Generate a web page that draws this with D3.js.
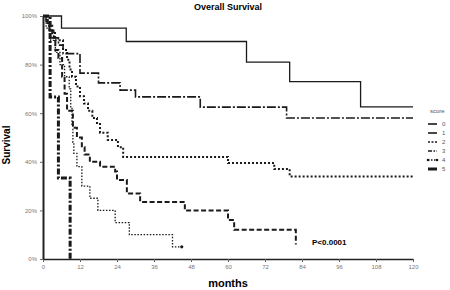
<!DOCTYPE html>
<html>
<head>
<meta charset="utf-8">
<script src="https://cdn.jsdelivr.net/npm/d3@7"></script>
<style>
body { margin: 0; background: #fff; }
text { font-family: Arial, "Liberation Sans", sans-serif; }
</style>
</head>
<body>
<div id="chart"></div>
<script>
// Kaplan-Meier steps: [month, survival %]
var score0 = [[0,100],[6,95],[27,89.5],[66,81],[80,73],[103,62.6]];
var score1 = [[0,100],[1,97],[2,94],[3.5,91],[5,88],[6.5,84.5],[12,76.5],[18,72.5],[25,69.5],[30,66.7],[51,62.5],[79,58]];
var score2 = [[0,100],[1.5,97],[2.3,94],[3.9,90],[6.5,86],[7.8,82],[8.6,78],[9.4,75],[10.7,71],[12,67],[13.3,64],[14.6,61],[16,58],[17.5,56],[18.5,52],[21,49],[24.3,46],[26,42],[60,39.5],[75,37],[80,34]];
var score3 = [[0,100],[1.5,96],[3,91],[4,86],[5,82.7],[6.2,75],[7,68],[7.8,61],[9.7,54],[11,50],[12.6,46],[13.5,43],[15.2,40],[18.5,38],[23.4,36],[24,32.5],[27.2,27],[31.5,23.5],[46,20],[60,16],[62,12],[82,6]];
var score4 = [[0,100],[1,95],[2.5,90],[4,85],[5.5,80],[7,75],[8.5,70],[9,62],[9.4,55],[9.7,48],[10,43.5],[11,38],[12.6,30],[15.2,25],[17.8,20],[23.4,15],[28,10],[42,5]];
var score5 = [[0,100],[2.3,66.7],[5,33.3],[8.8,0]];
var lastMonth = [120, 120, 120, 82, 45, 8.8];

var scoreLabels = ["0", "1", "2", "3", "4", "5"];
var xTicks = [0, 12, 24, 36, 48, 60, 72, 84, 96, 108, 120];
var yTicks = [0, 20, 40, 60, 80, 100];

var curves = [score0, score1, score2, score3, score4, score5];
var dashes = ["none", "9,2,2,2", "2,2", "5,2.5", "1.5,1.6", "6,2,2,2"];
var widths = [1.3, 1.6, 2, 2, 1.3, 3];

var margin = { top: 16, right: 37, bottom: 31, left: 43 },
    width = 450 - margin.left - margin.right,
    height = 290 - margin.top - margin.bottom;

var svg = d3.select("#chart")
    .append("svg")
    .attr("width", 450)
    .attr("height", 290);

var g = svg.append("g")
    .attr("transform", "translate(" + margin.left + "," + margin.top + ")");

var x = d3.scaleLinear().domain([0, 120]).range([0, width]);
var y = d3.scaleLinear().domain([0, 100]).range([height, 0]);

var xAxis = g.append("g")
    .attr("transform", "translate(0," + height + ")")
    .call(d3.axisBottom(x).tickValues(xTicks).tickSize(3).tickSizeOuter(0));
var yAxis = g.append("g")
    .call(d3.axisLeft(y).tickValues(yTicks).tickSize(3).tickSizeOuter(0)
        .tickFormat(function (d) { return d + "%"; }));

[xAxis, yAxis].forEach(function (a) {
    a.selectAll("text").attr("fill", "#777").style("font-size", "6px");
    a.selectAll("line").attr("stroke", "#666");
});
xAxis.select(".domain").attr("stroke", "#222").attr("stroke-width", 1.5);
yAxis.select(".domain").attr("stroke", "#222").attr("stroke-width", 2);

var line = d3.line()
    .x(function (d) { return x(d[0]); })
    .y(function (d) { return y(d[1]); })
    .curve(d3.curveStepAfter);

curves.forEach(function (c, i) {
    var pts = c.concat([[lastMonth[i], c[c.length - 1][1]]]);
    g.append("path")
        .datum(pts)
        .attr("fill", "none")
        .attr("stroke", "#1a1a1a")
        .attr("stroke-width", widths[i])
        .attr("stroke-dasharray", dashes[i])
        .attr("d", line);
});

// end marker of score 4
g.append("circle")
    .attr("cx", x(lastMonth[4]))
    .attr("cy", y(score4[score4.length - 1][1]))
    .attr("r", 1.6)
    .attr("fill", "#1a1a1a");

svg.append("text")
    .attr("x", 228).attr("y", 10)
    .attr("text-anchor", "middle")
    .style("font-size", "9px").style("font-weight", "bold")
    .text("Overall Survival");

svg.append("text")
    .attr("x", 228).attr("y", 287)
    .attr("text-anchor", "middle")
    .style("font-size", "11px").style("font-weight", "bold")
    .text("months");

svg.append("text")
    .attr("transform", "translate(10,145) rotate(-90)")
    .attr("text-anchor", "middle")
    .style("font-size", "10px").style("font-weight", "bold")
    .text("Survival");

svg.append("text")
    .attr("x", 312).attr("y", 245)
    .style("font-size", "8px").style("font-weight", "bold")
    .text("P<0.0001");

// legend
svg.append("text")
    .attr("x", 430).attr("y", 113)
    .attr("fill", "#555")
    .style("font-size", "6px")
    .text("score");

svg.selectAll("legline")
    .data(scoreLabels)
    .enter()
    .append("line")
    .attr("x1", 428).attr("x2", 437)
    .attr("y1", function (d, i) { return 124 + i * 9; })
    .attr("y2", function (d, i) { return 124 + i * 9; })
    .attr("stroke", "#1a1a1a")
    .attr("stroke-width", function (d, i) { return i == 5 ? 3 : 1.6; })
    .attr("stroke-dasharray", function (d, i) { return ["none", "none", "2,1.5", "4,1.5,1.5,1.5", "1.5,1.5", "none"][i]; });

svg.append("circle").attr("cx", 428).attr("cy", 124 + 4 * 9).attr("r", 1.3).attr("fill", "#1a1a1a");
svg.append("circle").attr("cx", 437).attr("cy", 124 + 4 * 9).attr("r", 1.3).attr("fill", "#1a1a1a");

svg.selectAll("leglabel")
    .data(scoreLabels)
    .enter()
    .append("text")
    .attr("x", 442)
    .attr("y", function (d, i) { return 124 + i * 9; })
    .attr("dy", "0.35em")
    .attr("fill", "#555")
    .style("font-size", "6px")
    .text(function (d) { return d; });
</script>
</body>
</html>
